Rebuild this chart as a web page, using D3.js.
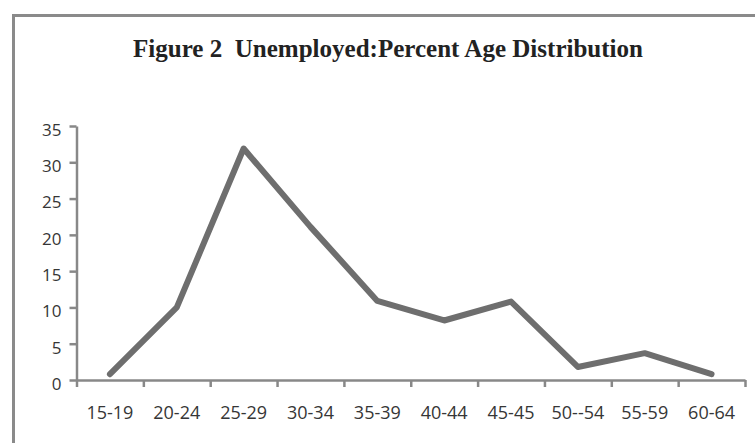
<!DOCTYPE html>
<html>
<head>
<meta charset="utf-8">
<script src="https://cdn.jsdelivr.net/npm/d3@7"></script>
<style>
  html, body { margin: 0; padding: 0; background: #ffffff; }
  svg { display: block; }
</style>
</head>
<body>
<svg id="chart" width="755" height="443"></svg>
<script>
// Age groups and share of unemployed (%)
const ageGroups = ["15-19", "20-24", "25-29", "30-34", "35-39", "40-44", "45-45", "50--54", "55-59", "60-64"];
const percentUnemployed = [0.8, 10, 31.9, 21.1, 10.9, 8.2, 10.8, 1.8, 3.7, 0.8];
const yTicks = [0, 5, 10, 15, 20, 25, 30, 35];
const chartTitle = "Figure 2  Unemployed:Percent Age Distribution";

const svg = d3.select("#chart");
const axisColor = "#888888";
const textColor = "#363636";

// outer frame
svg.append("rect")
  .attr("x", 13.5).attr("y", 15.5)
  .attr("width", 800).attr("height", 500)
  .attr("fill", "#ffffff")
  .attr("stroke", "#8a8a8a")
  .attr("stroke-width", 3);

// title (condensed bold serif)
svg.append("text")
  .attr("x", 133).attr("y", 57)
  .attr("textLength", 510)
  .attr("lengthAdjust", "spacingAndGlyphs")
  .style("white-space", "pre")
  .style("font-family", "'Liberation Serif', 'Times New Roman', serif")
  .style("font-weight", "bold")
  .style("font-size", "25px")
  .attr("fill", "#222222")
  .text(chartTitle);

const plot = { left: 76.5, right: 745, top: 126, bottom: 380 };

const x = d3.scaleBand().domain(ageGroups).range([plot.left, plot.right]).padding(0);
const xIdx = d3.scaleLinear().domain([0, ageGroups.length]).range([plot.left, plot.right]);
const y = d3.scaleLinear().domain([0, 35]).range([plot.bottom, plot.top]);

// y axis
const yAxis = svg.append("g")
  .attr("transform", `translate(${plot.left},0)`)
  .call(d3.axisLeft(y).tickValues(yTicks).tickSize(7).tickPadding(8).tickSizeOuter(0));
yAxis.select(".domain").attr("stroke", axisColor).attr("stroke-width", 2.5);
yAxis.selectAll(".tick line").attr("stroke", axisColor).attr("stroke-width", 2.5);
yAxis.selectAll(".tick text")
  .attr("dy", "0.55em")
  .attr("fill", textColor)
  .style("font-family", "'Open Sans', sans-serif")
  .style("font-size", "17px");

// x axis boundary ticks
const xTickAxis = svg.append("g")
  .attr("transform", `translate(0,${plot.bottom})`)
  .call(d3.axisBottom(xIdx).tickValues(d3.range(0, ageGroups.length + 1)).tickFormat("").tickSize(7).tickSizeOuter(0));
xTickAxis.select(".domain").attr("stroke", axisColor).attr("stroke-width", 2.5);
xTickAxis.selectAll(".tick line").attr("stroke", axisColor).attr("stroke-width", 2.5);

// x category labels
const xLabels = svg.append("g")
  .attr("transform", `translate(0,${plot.bottom})`)
  .call(d3.axisBottom(x).tickSize(0).tickPadding(26));
xLabels.select(".domain").remove();
xLabels.selectAll(".tick text")
  .attr("fill", textColor)
  .style("font-family", "'Open Sans', sans-serif")
  .style("font-size", "18px");

// data line
const line = d3.line()
  .x((d, i) => x(ageGroups[i]) + x.bandwidth() / 2)
  .y(d => y(d));

svg.append("path")
  .datum(percentUnemployed)
  .attr("d", line)
  .attr("fill", "none")
  .attr("stroke", "#6e6e6e")
  .attr("stroke-width", 6)
  .attr("stroke-linejoin", "round")
  .attr("stroke-linecap", "round");
</script>
</body>
</html>
